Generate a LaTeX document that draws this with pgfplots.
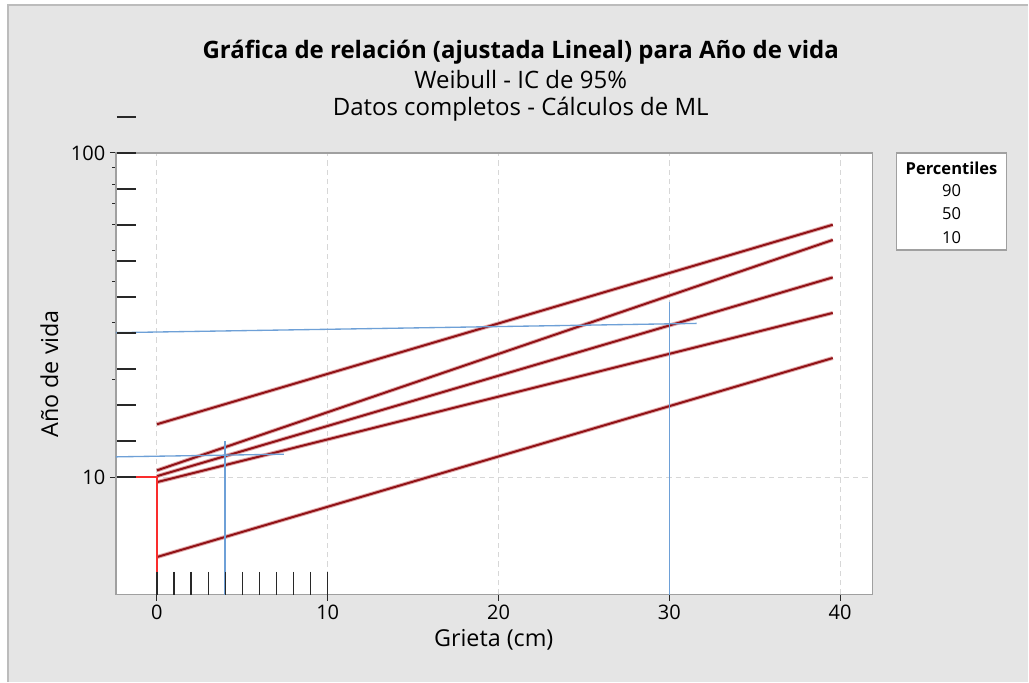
\documentclass[border=0pt]{standalone}
\usepackage{pgfplots}
\pgfplotsset{compat=1.18}
\usepackage{fontspec}
\setmainfont{Open Sans}
\definecolor{bggray}{RGB}{229,229,229}
\definecolor{framegray}{RGB}{160,160,160}
\definecolor{gridgray}{RGB}{215,215,215}
\definecolor{darkred}{RGB}{145,18,22}
\definecolor{halo}{RGB}{225,170,172}
\definecolor{ablue}{RGB}{110,160,215}
\definecolor{ared}{RGB}{250,45,45}
\definecolor{tickblack}{RGB}{40,40,40}
\pgfplotsset{
  pline/.style={darkred, line width=1.5pt, no marks},
  phalo/.style={halo, line width=3pt, no marks},
}
\begin{document}
\begin{tikzpicture}
% background (axis box SW at origin; 1px = 0.75pt)
\fill[white] (-87pt,-65.25pt) rectangle (684.75pt,446.25pt);
\fill[bggray] (-81pt,-65.25pt) rectangle (684.75pt,442.5pt);
\draw[framegray!70, line width=0.8pt] (-81pt,-65.25pt) -- (-81pt,442.5pt) -- (684.75pt,442.5pt);
\begin{axis}[
  scale only axis,
  width=567.75pt, height=331.5pt,
  ymode=log,
  xmin=-2.4, xmax=41.9,
  ymin=4.34, ymax=100,
  axis background/.style={fill=white},
  axis line style={framegray, line width=1.2pt},
  xtick={0,10,20,30,40},
  xticklabels={0,10,20,30,40},
  ytick={10,100},
  yticklabels={10,100},
  minor ytick={},
  tick align=outside,
  major tick length=4.5pt,
  tick style={tickblack, line width=0.8pt},
  xtick pos=bottom, ytick pos=left,
  tick label style={font=\fontsize{15}{17}\selectfont},
  xticklabel style={yshift=0pt},
  yticklabel style={xshift=0pt},
  grid=major,
  major grid style={gridgray, dash pattern=on 4pt off 3pt, line width=0.8pt},
  clip=false,
]
% percentile lines (halo + core)
\addplot[phalo] coordinates {(0,14.56) (39.57,60.04)};
\addplot[pline] coordinates {(0,14.56) (39.57,60.04)};
\addplot[phalo] coordinates {(0,10.49) (39.57,53.9)};
\addplot[pline] coordinates {(0,10.49) (39.57,53.9)};
\addplot[phalo] coordinates {(0,10.07) (39.57,41.3)};
\addplot[pline] coordinates {(0,10.07) (39.57,41.3)};
\addplot[phalo] coordinates {(0,9.65) (39.57,32.1)};
\addplot[pline] coordinates {(0,9.65) (39.57,32.1)};
\addplot[phalo] coordinates {(0,5.67) (39.57,23.3)};
\addplot[pline] coordinates {(0,5.67) (39.57,23.3)};
% blue guide lines
\addplot[ablue, line width=1pt, no marks] coordinates {(-2.4,27.9) (31.6,29.8)};
\addplot[ablue, line width=1pt, no marks] coordinates {(30,34.8) (30,4.34)};
\addplot[ablue, line width=1pt, no marks] coordinates {(-2.4,11.55) (7.43,11.77)};
\addplot[ablue, line width=1pt, no marks] coordinates {(3.98,12.91) (3.98,4.34)};
% red guide
\addplot[ared, line width=1.1pt, no marks] coordinates {(-1.2,10) (0,10) (0,4.34)};
% left ruler ticks
\foreach \k in {0,...,10} {
  \pgfmathsetmacro{\yv}{10^(1+\k/9)}
  \edef\temp{\noexpand\addplot[tickblack, line width=1.1pt, no marks] coordinates {(-2.35,\yv) (-1.2,\yv)};}
  \temp
}
% bottom ruler ticks
\foreach \k in {0,...,10} {
  \edef\temp{\noexpand\addplot[tickblack, line width=1pt, no marks] coordinates {(\k,5.1) (\k,4.34)};}
  \temp
}
\end{axis}
% titles
\node[font=\bfseries\fontsize{18}{21}\selectfont] at (303.75pt,407.25pt) {Gráfica de relación (ajustada Lineal) para Año de vida};
\node[font=\fontsize{18}{21}\selectfont] at (303.75pt,386.25pt) {Weibull - IC de 95\%};
\node[font=\fontsize{18}{21}\selectfont] at (303.75pt,364.5pt) {Datos completos - Cálculos de ML};
% axis labels
\node[font=\fontsize{17.5}{20}\selectfont] at (283.5pt,-33.75pt) {Grieta (cm)};
\node[font=\fontsize{17.5}{20}\selectfont, rotate=90] at (-50pt,165.75pt) {Año de vida};
% legend
\node[draw=framegray, line width=1.2pt, fill=white, minimum width=82.5pt, minimum height=72.75pt, inner sep=0pt] (leg) at (627pt,295.1pt) {};
\node[font=\bfseries\fontsize{12.4}{14}\selectfont] at (627pt,320.25pt) {Percentiles};
\node[font=\fontsize{12.4}{14}\selectfont] at (627pt,303pt) {90};
\node[font=\fontsize{12.4}{14}\selectfont] at (627pt,285.75pt) {50};
\node[font=\fontsize{12.4}{14}\selectfont] at (627pt,267.75pt) {10};
\end{tikzpicture}
\end{document}
